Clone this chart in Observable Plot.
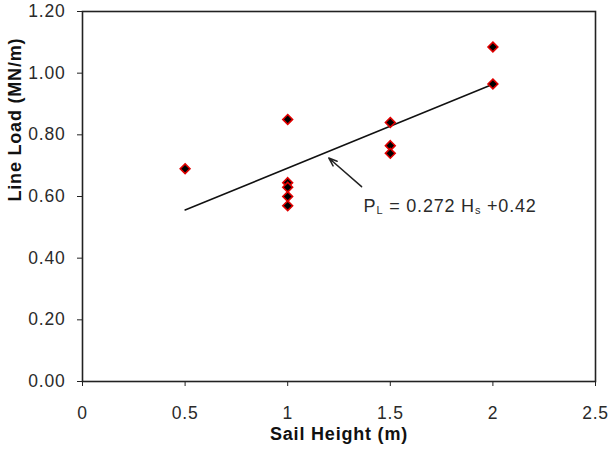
<!DOCTYPE html>
<html>
<head>
<meta charset="utf-8">
<script src="https://cdn.jsdelivr.net/npm/d3@7"></script>
<script src="https://cdn.jsdelivr.net/npm/@observablehq/plot@0.6"></script>
<style>
  body { margin: 0; background: #fff; }
  #chart svg text { letter-spacing: 0.8px; }
</style>
</head>
<body>
<div id="chart"></div>
<script>
// Measured line loads against sail height
const sailHeight = [0.5, 1, 1, 1, 1, 1, 1.5, 1.5, 1.5, 2, 2];
const lineLoad = [0.69, 0.85, 0.645, 0.63, 0.60, 0.57, 0.84, 0.765, 0.74, 1.085, 0.965];

// Axis ticks
const xTicks = [0, 0.5, 1, 1.5, 2, 2.5];
const yTicks = [0, 0.2, 0.4, 0.6, 0.8, 1.0, 1.2];

// Linear trend: PL = 0.272 Hs + 0.42
const fitSlope = 0.272;
const fitIntercept = 0.42;

// Annotation anchor points (data units)
const arrowFrom = [1.36, 0.632];
const arrowTo = [1.2, 0.725];
const equationAt = [1.37, 0.57];
const equationText = "PL = 0.272 Hs +0.42";

const points = sailHeight.map((x, i) => ({x, y: lineLoad[i]}));
const [xmin, xmax] = d3.extent(sailHeight);
const fit = [xmin, xmax].map(x => ({x, y: fitSlope * x + fitIntercept}));

const chart = Plot.plot({
  width: 610,
  height: 455,
  marginLeft: 82,
  marginRight: 15,
  marginTop: 11,
  marginBottom: 74,
  style: {fontFamily: "'Liberation Sans', Arial, sans-serif", fontSize: "17.5px", color: "#2a2a2a", background: "#fff"},
  x: {domain: [0, 2.5]},
  y: {domain: [0, 1.2]},
  marks: [
    Plot.axisX({ticks: xTicks, tickSize: 5, tickPadding: 20, label: null, tickFormat: d3.format(""), stroke: "#222"}),
    Plot.axisY({ticks: yTicks, tickSize: 5, tickPadding: 12, label: null, tickFormat: d3.format(".2f"), stroke: "#222"}),
    Plot.frame({stroke: "#222", strokeWidth: 1.6}),
    Plot.line(fit, {x: "x", y: "y", stroke: "#111", strokeWidth: 1.5}),
    Plot.arrow([{from: arrowFrom, to: arrowTo}], {
      x1: d => d.from[0], y1: d => d.from[1], x2: d => d.to[0], y2: d => d.to[1],
      stroke: "#222", strokeWidth: 1.5, headLength: 9, headAngle: 40
    }),
    Plot.dot(points, {x: "x", y: "y", symbol: "diamond2", r: 4.4, fill: "#000", stroke: "#e00000", strokeWidth: 1.6}),
    Plot.text([equationText], {x: () => equationAt[0], y: () => equationAt[1], text: d => d, textAnchor: "start", fontSize: 18, fill: "#2a2a2a"}),
    Plot.text(["Sail Height (m)"], {frameAnchor: "bottom", dy: 58, text: d => d, fontWeight: "bold", fontSize: 18, fill: "#111"}),
    Plot.text(["Line Load (MN/m)"], {frameAnchor: "left", dx: -67, dy: 5, rotate: -90, text: d => d, fontWeight: "bold", fontSize: 18, fill: "#111"})
  ]
});

// Subscripts in the trend equation
d3.select(chart).selectAll("text")
  .filter(function() { return this.textContent === equationText; })
  .each(function() {
    const t = d3.select(this);
    t.text(null);
    t.append("tspan").text("P");
    t.append("tspan").attr("font-size", "11px").attr("dy", "2").text("L");
    t.append("tspan").attr("dy", "-2").text(" = 0.272 H");
    t.append("tspan").attr("font-size", "11px").attr("dy", "2").text("s");
    t.append("tspan").attr("dy", "-2").text(" +0.42");
  });

document.getElementById("chart").append(chart);
</script>
</body>
</html>
